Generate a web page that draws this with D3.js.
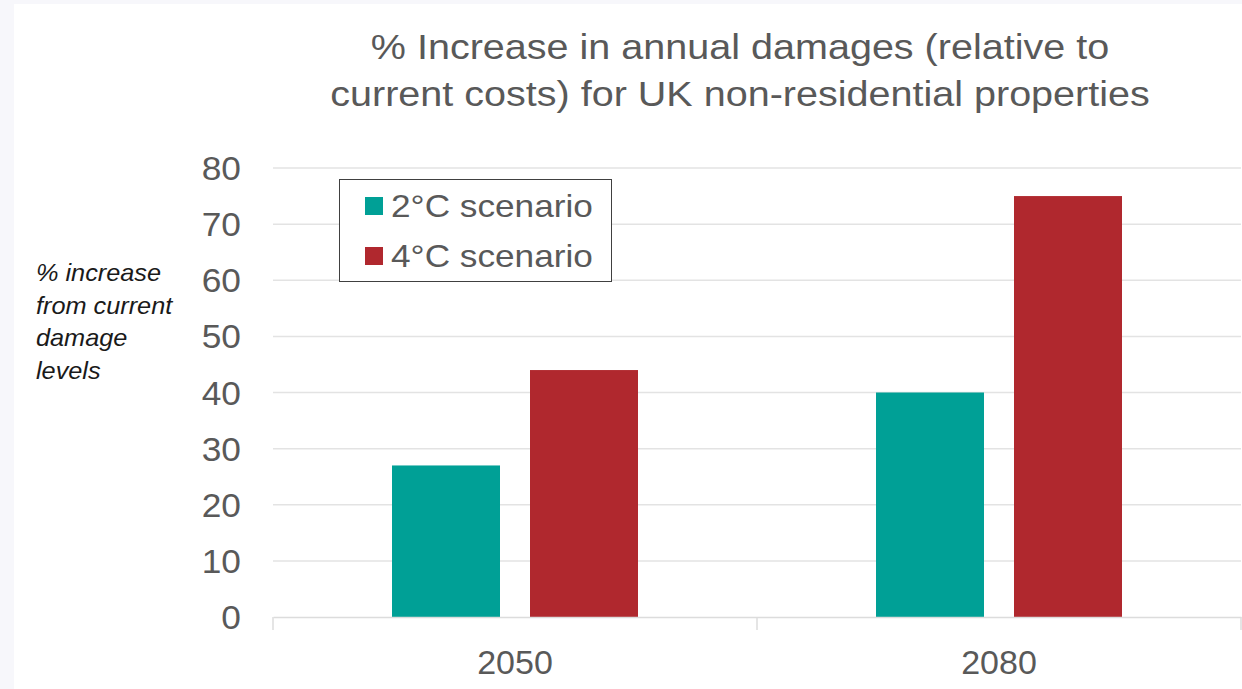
<!DOCTYPE html>
<html><head><meta charset="utf-8">
<script src="https://cdn.jsdelivr.net/npm/d3@7"></script>
<style>
html,body{margin:0;padding:0;background:#f7f7fb;}
svg{display:block;font-family:"Liberation Sans",Arial,sans-serif;}
</style></head>
<body>
<svg id="chart" width="1242" height="689"></svg>
<script>
const categories = ["2050", "2080"];
const seriesNames = ["2°C scenario", "4°C scenario"];
const seriesColors = ["#00a096", "#b0282e"];
const values2C = [27, 40];
const values4C = [44, 75];
const yTicks = [0, 10, 20, 30, 40, 50, 60, 70, 80];
const titleLines = ["% Increase in annual damages (relative to", "current costs) for UK non-residential properties"];
const yTitleLines = ["% increase", "from current", "damage", "levels"];

const svg = d3.select("#chart");
svg.append("rect").attr("x", 14).attr("y", 4).attr("width", 1228).attr("height", 685).attr("fill", "#ffffff");

const plot = {left: 273, right: 1241, top: 168, bottom: 617};
const x = d3.scaleBand().domain(categories).range([plot.left, plot.right]);
const y = d3.scaleLinear().domain([0, 80]).range([plot.bottom, plot.top]);
const inner = d3.scaleBand().domain([0, 1]).range([0, 246]).paddingInner(0.2174);

// helper: text stretched horizontally around its anchor
function stretchText(g, tx, ty, str, size, sx, anchor, fill, italic) {
  const t = g.append("text")
    .attr("transform", `translate(${tx},${ty}) scale(${sx},1)`)
    .attr("text-anchor", anchor).attr("fill", fill)
    .style("font-size", size + "px").text(str);
  if (italic) t.style("font-style", "italic");
  return t;
}

// gridlines
svg.append("g").selectAll("line").data(yTicks.filter(d => d > 0)).join("line")
  .attr("x1", plot.left).attr("x2", plot.right)
  .attr("y1", d => y(d)).attr("y2", d => y(d))
  .attr("stroke", "#e3e3e3").attr("stroke-width", 1.5);

// y axis labels
const yAxis = d3.axisLeft(y).tickValues(yTicks).tickSize(0).tickPadding(0);
const gy = svg.append("g").attr("transform", `translate(${plot.left},0)`).call(yAxis);
gy.select(".domain").remove();
gy.selectAll(".tick text").remove();
gy.selectAll(".tick").each(function(d) {
  stretchText(d3.select(this), -32, 11.5, String(d), 33, 1.07, "end", "#595959", false);
});

// bars
const data = [];
categories.forEach((c, i) => {
  data.push({cat: c, s: 0, v: values2C[i]});
  data.push({cat: c, s: 1, v: values4C[i]});
});
svg.append("g").selectAll("rect").data(data).join("rect")
  .attr("x", d => x(d.cat) + x.bandwidth() / 2 - 123 + inner(d.s))
  .attr("width", inner.bandwidth())
  .attr("y", d => y(d.v))
  .attr("height", d => y(0) - y(d.v))
  .attr("fill", d => seriesColors[d.s]);

// x axis
const xAxis = d3.axisBottom(x).tickSize(0).tickPadding(0);
const gx = svg.append("g").attr("transform", `translate(0,${plot.bottom})`).call(xAxis);
gx.select(".domain").attr("stroke", "#dcdcdc").attr("stroke-width", 1.5);
gx.selectAll(".tick text").remove();
gx.selectAll(".tick").each(function(d) {
  stretchText(d3.select(this), 0, 57, d, 34, 1.0, "middle", "#595959", false);
});
// category separators
const sepX = [plot.left, x(categories[1]), plot.right];
svg.append("g").selectAll("line").data(sepX).join("line")
  .attr("x1", d => d).attr("x2", d => d).attr("y1", plot.bottom).attr("y2", plot.bottom + 13)
  .attr("stroke", "#dcdcdc").attr("stroke-width", 1.5);

// title
const tg = svg.append("g");
titleLines.forEach((line, i) => stretchText(tg, 740, 59 + i * 47, line, 35, 1.13, "middle", "#595959", false));

// y title
const yg = svg.append("g");
yTitleLines.forEach((line, i) => stretchText(yg, 36, 281 + i * 32.5, line, 23, 1.1, "start", "#1a1a1a", true));

// legend
const lg = svg.append("g");
lg.append("rect").attr("x", 339.5).attr("y", 179.5).attr("width", 272).attr("height", 102)
  .attr("fill", "#ffffff").attr("stroke", "#404040").attr("stroke-width", 1);
seriesNames.forEach((n, i) => {
  lg.append("rect").attr("x", 365).attr("y", 197 + i * 50).attr("width", 18).attr("height", 18)
    .attr("fill", seriesColors[i]);
  stretchText(lg, 391, 217 + i * 50, n, 32, 1.1, "start", "#595959", false);
});
</script>
</body></html>
